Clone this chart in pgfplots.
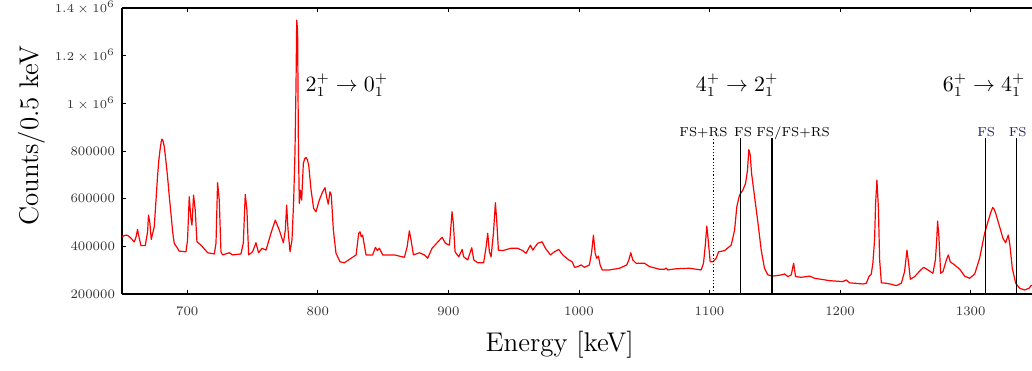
\documentclass[border=0pt]{standalone}
\usepackage{pgfplots}
\pgfplotsset{compat=1.18}
\definecolor{fsblue}{RGB}{30,30,100}
\pgfplotstableread{
E C
650.0 440000
652.0 446000
654.0 447000
656.5 436000
659.4 419000
660.8 440000
661.9 471000
663.0 440000
664.5 403000
667.8 403000
669.6 461000
670.3 531000
671.4 496000
672.4 429000
674.7 482000
676.0 590000
677.2 692000
678.2 760000
679.1 804000
680.0 838000
680.6 850000
681.3 845000
682.4 818000
683.5 765000
684.9 692000
686.2 610000
687.5 538000
688.8 460000
690.0 413000
693.9 380000
699.0 377000
700.2 426000
701.5 608000
702.8 517000
703.6 489000
704.8 615000
706.1 552000
707.4 419000
710.5 405000
715.6 373000
720.7 368000
722.0 413000
723.2 667000
724.5 594000
725.8 377000
727.0 364000
732.2 373000
734.7 364000
741.1 368000
742.9 413000
744.4 618000
745.7 552000
747.0 364000
750.0 377000
752.6 415000
754.6 373000
757.2 392000
760.3 384000
764.1 455000
767.4 510000
770.5 468000
773.6 415000
775.1 468000
776.1 573000
777.2 468000
778.7 377000
780.2 426000
781.5 594000
782.5 797000
783.3 1083000
783.8 1349000
784.5 1307000
785.1 832000
785.8 580000
786.6 636000
787.6 594000
788.9 748000
790.0 768000
791.0 773000
792.0 763000
793.0 741000
794.8 636000
796.8 559000
798.6 545000
801.1 594000
803.7 629000
805.5 646000
806.7 608000
808.0 577000
809.3 629000
810.3 615000
811.9 468000
813.9 371000
817.0 335000
820.3 331000
824.1 345000
829.3 364000
831.3 455000
832.3 461000
833.3 440000
834.3 447000
836.9 364000
842.0 364000
844.1 396000
845.6 382000
847.1 392000
849.7 364000
858.6 364000
866.3 354000
868.4 398000
870.1 465000
871.4 426000
873.2 364000
877.8 373000
881.6 364000
884.1 350000
887.5 392000
891.0 413000
895.2 438000
897.7 413000
900.8 405000
902.1 496000
902.8 545000
903.8 496000
905.1 377000
907.9 356000
910.5 387000
911.7 356000
914.8 343000
917.9 394000
919.4 343000
922.5 331000
927.0 331000
928.9 398000
930.1 455000
931.4 377000
932.7 356000
934.5 455000
936.0 583000
937.0 510000
938.3 384000
941.6 382000
948.0 392000
953.1 392000
956.9 382000
959.5 371000
962.8 405000
964.6 384000
968.4 413000
971.8 419000
974.3 392000
978.2 364000
981.2 377000
984.5 387000
987.6 364000
992.2 343000
994.8 335000
996.6 312000
999.1 315000
1001.7 322000
1004.2 312000
1008.0 322000
1009.6 371000
1011.1 447000
1012.4 371000
1013.6 350000
1014.9 359000
1016.2 322000
1017.8 301000
1023.4 301000
1031.0 308000
1036.6 322000
1038.2 343000
1039.7 373000
1041.2 343000
1043.8 329000
1050.2 329000
1054.0 315000
1061.7 304000
1065.5 304000
1066.8 309000
1068.0 301000
1074.5 306000
1084.7 308000
1093.6 301000
1095.4 329000
1096.9 413000
1097.9 485000
1099.0 426000
1100.5 335000
1102.5 335000
1105.1 350000
1106.9 377000
1111.5 382000
1116.6 405000
1119.2 468000
1120.9 566000
1123.0 615000
1125.5 636000
1127.6 664000
1129.1 720000
1130.1 806000
1131.2 783000
1132.2 706000
1134.5 608000
1137.0 503000
1139.6 384000
1142.1 308000
1144.7 280000
1148.5 275000
1154.9 280000
1157.5 284000
1160.0 273000
1162.6 280000
1164.4 329000
1165.9 273000
1170.3 270000
1176.6 275000
1180.5 266000
1192.0 256000
1202.1 252000
1204.7 259000
1207.3 247000
1217.5 242000
1220.1 245000
1222.1 273000
1223.9 284000
1225.1 329000
1226.4 426000
1227.2 580000
1228.2 678000
1229.3 566000
1230.3 343000
1231.6 247000
1235.4 245000
1239.2 241000
1243.1 235000
1246.9 245000
1249.4 294000
1251.2 384000
1252.5 329000
1253.8 262000
1257.1 273000
1260.9 296000
1264.0 312000
1267.3 301000
1271.1 287000
1273.0 343000
1274.0 426000
1274.7 506000
1275.7 440000
1277.0 287000
1278.8 294000
1281.4 343000
1282.9 364000
1284.4 335000
1287.7 322000
1291.6 304000
1295.4 275000
1299.2 266000
1303.1 284000
1306.9 350000
1310.7 455000
1314.0 517000
1315.6 545000
1316.9 563000
1318.0 556000
1319.2 538000
1322.2 482000
1324.7 434000
1326.8 415000
1328.8 447000
1329.9 413000
1331.9 308000
1334.5 245000
1337.5 224000
1341.4 217000
1344.7 224000
1346.7 238000
}\spectrum
\begin{document}
\begin{tikzpicture}
\begin{axis}[
  scale only axis, width=455pt, height=143pt,
  xmin=650, xmax=1347, ymin=200000, ymax=1400000,
  axis x line*=box, axis y line*=left,
  tick align=inside, xtick pos=both, ytick pos=left,
  axis line style={line width=0.6pt},
  major tick length=2pt,
  tick style={black, line width=0.4pt},
  xtick={700,800,900,1000,1100,1200,1300},
  xticklabels={700,800,900,1000,1100,1200,1300},
  ytick={200000,400000,600000,800000,1000000,1200000,1400000},
  yticklabels={200000,400000,600000,800000,$1\times10^{6}$,$1.2\times10^{6}$,$1.4\times10^{6}$},
  scaled y ticks=false, scaled x ticks=false,
  ticklabel style={font=\fontsize{6.5}{7}\selectfont, black!80},
  xticklabel style={yshift=-3pt},
  xlabel={Energy [keV]}, ylabel={Counts/0.5 keV},
  label style={font=\fontsize{13.5}{16}\selectfont},
  xlabel style={at={([yshift=-25.5pt]axis description cs:0.481,0)}, anchor=center},
  ylabel style={at={([xshift=-45pt]axis description cs:0,0.553)}, anchor=center},
  clip=true,
]
\addplot[red, line width=0.6pt, line join=round] table[x=E, y=C] {\spectrum};
\addplot[black, densely dotted, line width=0.6pt] coordinates {(1103.1,200000) (1103.1,854000)};
\addplot[black, line width=0.8pt] coordinates {(1123.8,200000) (1123.8,854000)};
\addplot[black, line width=0.8pt] coordinates {(1148.0,200000) (1148.0,854000)};
\addplot[black, line width=0.8pt] coordinates {(1311.3,200000) (1311.3,854000)};
\addplot[black, line width=0.8pt] coordinates {(1335.0,200000) (1335.0,854000)};
\node[anchor=base, font=\fontsize{10.5}{12}\selectfont] at (axis cs:822.2,1050000) {$2_1^+ \to 0_1^+$};
\node[anchor=base, font=\fontsize{10.5}{12}\selectfont] at (axis cs:1121.1,1050000) {$4_1^+ \to 2_1^+$};
\node[anchor=base, font=\fontsize{10.5}{12}\selectfont] at (axis cs:1310.3,1050000) {$6_1^+ \to 4_1^+$};
\node[anchor=base, font=\fontsize{6.5}{7}\selectfont, inner sep=0pt] at (axis cs:1095.4,862000) {FS+RS};
\node[anchor=base, font=\fontsize{6.5}{7}\selectfont, inner sep=0pt] at (axis cs:1125.7,862000) {FS};
\node[anchor=base, font=\fontsize{6.5}{7}\selectfont, inner sep=0pt] at (axis cs:1164.0,862000) {FS/FS+RS};
\node[anchor=base, font=\fontsize{6.5}{7}\selectfont, inner sep=0pt, text=fsblue] at (axis cs:1311.9,862000) {FS};
\node[anchor=base, font=\fontsize{6.5}{7}\selectfont, inner sep=0pt, text=fsblue] at (axis cs:1336.0,862000) {FS};
\coordinate (bl) at (rel axis cs:0,0);
\coordinate (tr) at (rel axis cs:1,1);
\end{axis}
\pgfresetboundingbox
\path[use as bounding box] ([shift={(-61pt,-38pt)}]bl) rectangle ([shift={(0pt,4pt)}]tr);
\end{tikzpicture}
\end{document}
